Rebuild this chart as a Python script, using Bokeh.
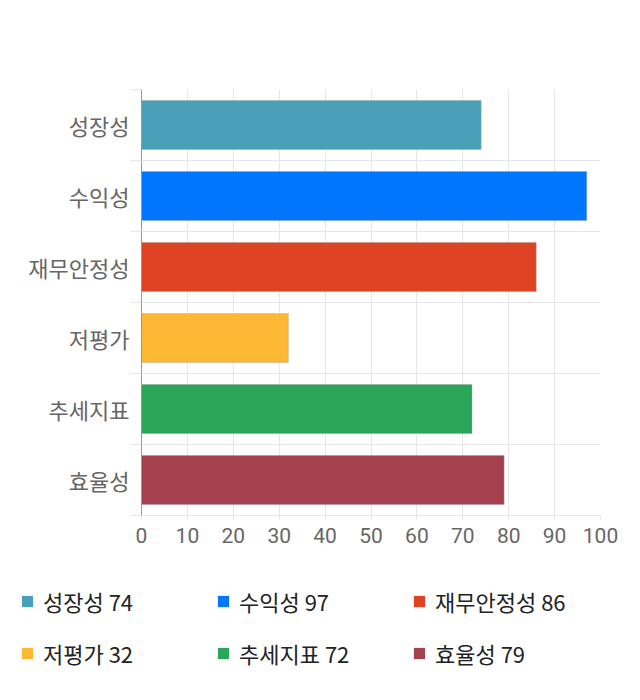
from bokeh.plotting import figure
from bokeh.layouts import column
from bokeh.models import (ColumnDataSource, FixedTicker, Legend, LegendItem,
                          Range1d)
from bokeh.embed import file_html
from bokeh.resources import INLINE

categories = ["성장성", "수익성", "재무안정성", "저평가", "추세지표", "효율성"]
values = [74, 97, 86, 32, 72, 79]
colors = ["#4aa0b9", "#0076ff", "#e04324", "#fdb933", "#29a657", "#a5404e"]
x_ticks = [0, 10, 20, 30, 40, 50, 60, 70, 80, 90, 100]

n = len(categories)
ypos = [n - i - 0.5 for i in range(n)]

src = ColumnDataSource(dict(y=ypos, right=values, color=colors,
                            label=[f"{c} {v}" for c, v in zip(categories, values)]))

FONT = "Noto Sans CJK KR"

p = figure(width=624, height=560, output_backend="svg", toolbar_location=None,
           x_range=Range1d(0, 100), y_range=Range1d(0, n),
           min_border_left=141, min_border_right=24, min_border_top=89,
           min_border_bottom=45)
p.frame_align = False
p.outline_line_color = None
p.background_fill_color = "white"
p.border_fill_color = "white"

r = p.hbar(y="y", right="right", left=0, height=0.69, fill_color="color",
           line_color="#999999", line_alpha=0.35, line_width=1, source=src)

# y axis: labels at band centers, ticks/grid at band boundaries
yax = p.yaxis[0]
yax.ticker = FixedTicker(ticks=ypos, minor_ticks=list(range(n + 1)))
yax.major_label_overrides = {y: c for y, c in zip(ypos, categories)}
yax.major_tick_line_color = None
yax.major_tick_out = 0
yax.major_tick_in = 0
yax.minor_tick_out = 11
yax.minor_tick_in = 0
yax.minor_tick_line_color = "#e6e6e6"
yax.axis_line_color = "#999999"
yax.major_label_text_font = FONT
yax.major_label_text_font_size = "22px"
yax.major_label_text_color = "#666666"
yax.major_label_standoff = 1
p.ygrid.ticker = FixedTicker(ticks=list(range(n + 1)))
p.ygrid.grid_line_color = "#e6e6e6"

xax = p.xaxis[0]
xax.ticker = FixedTicker(ticks=x_ticks)
xax.axis_line_color = "#e6e6e6"
xax.major_tick_line_color = "#e6e6e6"
xax.major_tick_out = 4
xax.major_tick_in = 0
xax.minor_tick_line_color = None
xax.major_label_text_font = "Roboto"
xax.major_label_text_font_size = "21px"
xax.major_label_text_color = "#666666"
xax.major_label_standoff = 8
p.xgrid.grid_line_color = "#e6e6e6"

# legend panel
lg = figure(width=624, height=124, output_backend="svg", toolbar_location=None,
            x_range=Range1d(0, 1), y_range=Range1d(0, 1),
            x_axis_type=None, y_axis_type=None,
            min_border_left=0, min_border_right=0, min_border_top=0,
            min_border_bottom=0)
lg.frame_align = False
lg.outline_line_color = None
lg.xgrid.visible = False
lg.ygrid.visible = False
r2 = lg.hbar(y="y", right="right", left=0, height=0.69, fill_color="color",
             line_color=None, source=src, visible=False)

items = [LegendItem(label=lab, renderers=[r2], index=i)
         for i, lab in enumerate(src.data["label"])]
legend = Legend(items=items, ncols=3, orientation="horizontal",
                location="top_left", label_text_font=FONT,
                label_text_font_size="22px", label_text_color="#222222",
                glyph_width=14, glyph_height=14, label_width=163,
                label_standoff=9, spacing=10, padding=2, margin=20,
                border_line_color=None, background_fill_alpha=0,
                label_height=42)
lg.add_layout(legend)

layout = column(p, lg, spacing=0)
open("out.html", "w").write(file_html(layout, INLINE))
